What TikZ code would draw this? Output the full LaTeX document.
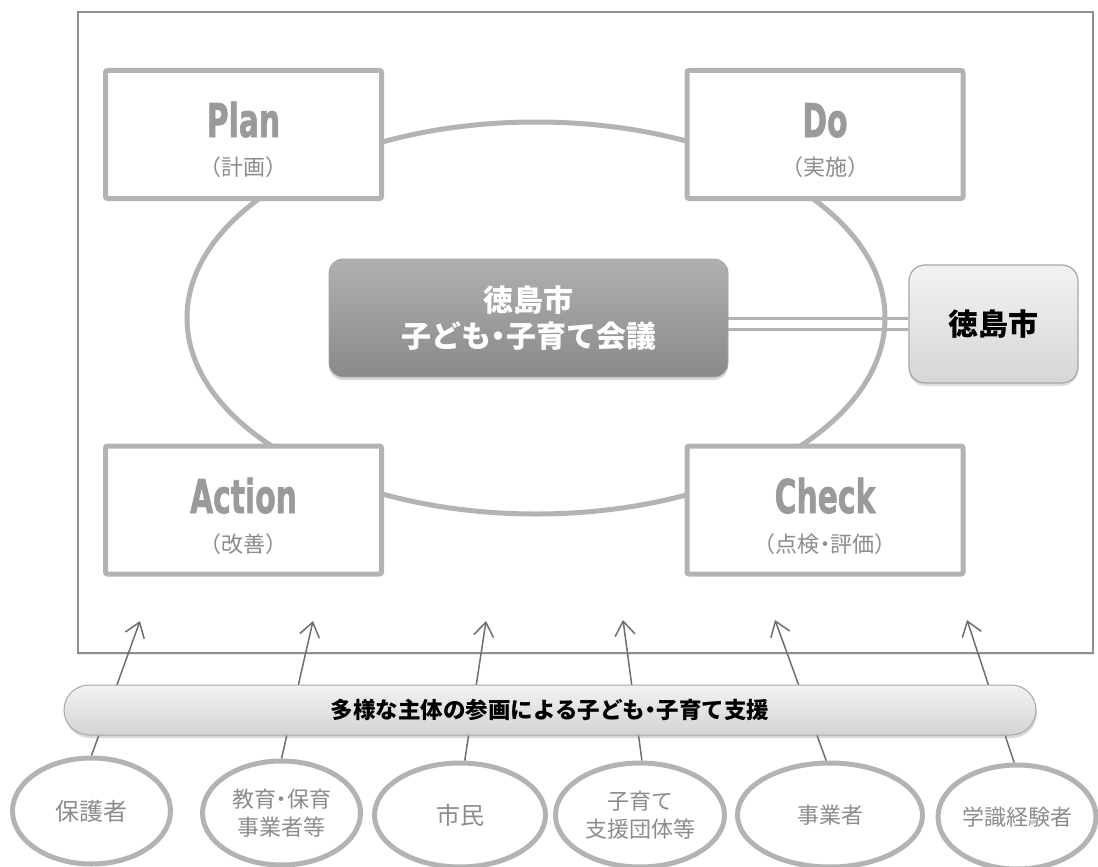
\documentclass[tikz,border=0pt]{standalone}
\usepackage{fontspec}
\usepackage{graphicx}
\setmainfont{Noto Sans CJK JP}
\newfontfamily\pdcafont{DejaVu Sans}[BoldFeatures={FakeBold=1.6}]
\usetikzlibrary{positioning, calc, shapes.geometric, arrows.meta, shadows, backgrounds}

\definecolor{lineGray}{HTML}{B3B3B3}
\definecolor{frameGray}{HTML}{8F8F8F}
\definecolor{titleGray}{HTML}{9A9A9A}
\definecolor{subGray}{HTML}{8C8C8C}
\definecolor{arrowGray}{HTML}{6E6E6E}

\newcommand{\pdcaword}[1]{\scalebox{0.64}[1]{#1}}
\newcommand{\nakaguro}{\makebox[0.5em][c]{・}}

\tikzstyle{Phase} = [draw=lineGray, line width=5pt, fill=white,
rounded corners=2pt, minimum width=276pt, minimum height=128pt, inner sep=0pt]
\tikzstyle{PhaseTitle} = [text=titleGray, anchor=base, inner sep=0pt,
font=\pdcafont\bfseries\fontsize{46.5}{46.5}\selectfont]
\tikzstyle{PhaseSub} = [text=subGray, anchor=base, inner sep=0pt,
font=\fontsize{22}{22}\selectfont]
\tikzstyle{Actor} = [ellipse, draw=lineGray, line width=5pt, fill=white,
inner sep=0pt, text=subGray, align=center, font=\fontsize{22}{28}\selectfont]
\tikzstyle{Arrow} = [draw=arrowGray, line width=1.5pt,
-{Straight Barb[length=14pt, width=20pt]}]

\begin{document}
\begin{tikzpicture}[x=1pt, y=-1pt]
    \useasboundingbox (0,0) rectangle (1098,867);

    % PDCA boxes
    \node [Phase] (plan) at (243.5,134.5) {};
    \node [Phase] (do) at (825,134.5) {};
    \node [Phase] (action) at (243.5,510) {};
    \node [Phase] (check) at (825,510) {};

    \node [PhaseTitle] (plantitle) at ([yshift=-2.5pt]plan.center) {\pdcaword{Plan}};
    \node [PhaseSub] (plansub) at ([yshift=-41pt]plan.center) {（計画）};
    \node [PhaseTitle] (dotitle) at ([yshift=-2.5pt]do.center) {\pdcaword{Do}};
    \node [PhaseSub] (dosub) at ([yshift=-41pt]do.center) {（実施）};
    \node [PhaseTitle] (actiontitle) at ([yshift=-3pt]action.center) {\pdcaword{Action}};
    \node [PhaseSub] (actionsub) at ([yshift=-42pt]action.center) {（改善）};
    \node [PhaseTitle] (checktitle) at ([yshift=-3pt]check.center) {\pdcaword{Check}};
    \node [PhaseSub] (checksub) at ([yshift=-42pt]check.center) {（点検\nakaguro 評価）};

    % council and city
    \node [draw=frameGray!80, line width=0.8pt, rounded corners=14pt,
        top color=black!31, bottom color=black!46,
        drop shadow={opacity=0.3, shadow xshift=0pt, shadow yshift=-3pt},
        minimum width=399pt, minimum height=118pt, align=center, text=white,
        font=\bfseries\fontsize{30}{36}\selectfont] (council) at (528.5,318)
        {徳島市\\子ども\nakaguro 子育て会議};
    \node [draw=black!35, line width=1.2pt, rounded corners=16pt,
        top color=black!5, bottom color=black!16,
        drop shadow={opacity=0.25, shadow xshift=0pt, shadow yshift=-3pt},
        minimum width=169pt, minimum height=118pt,
        font=\bfseries\fontsize{30}{36}\selectfont] (city) at (993.5,324) {徳島市};

    \begin{scope}[on background layer]
        \draw [frameGray, line width=1.5pt, fill=white,
            drop shadow={opacity=0.2, shadow xshift=1pt, shadow yshift=-2pt}]
            (78,12) rectangle (1093,653);
        \draw [lineGray, line width=3pt, double=white, double distance=8.5pt]
            (city.west) -- (council.east |- city.west);
        \draw [lineGray, line width=5pt] (536,318) ellipse [x radius=349pt, y radius=196pt];
    \end{scope}

    % participants
    \node [Actor, minimum width=158pt, minimum height=106pt, font=\fontsize{24}{28}\selectfont]
        (parents) at (91.5,811) {保護者};
    \node [Actor, minimum width=158pt, minimum height=104pt]
        (educators) at (281.5,813) {教育\nakaguro 保育\\事業者等};
    \node [Actor, minimum width=171pt, minimum height=104pt, font=\fontsize{24}{28}\selectfont]
        (citizens) at (460,815) {市民};
    \node [Actor, minimum width=169pt, minimum height=104pt]
        (groups) at (640,815) {子育て\\支援団体等};
    \node [Actor, minimum width=185pt, minimum height=104pt]
        (business) at (830,815) {事業者};
    \node [Actor, minimum width=158pt, minimum height=104pt]
        (experts) at (1017,817) {学識経験者};

    \coordinate (tip1) at (140,621);
    \coordinate (tip2) at (313,621);
    \coordinate (tip3) at (486,621);
    \coordinate (tip4) at (623,620);
    \coordinate (tip5) at (775,620);
    \coordinate (tip6) at (967,620);

    \draw[Arrow] (parents.north) -- (tip1);
    \draw[Arrow] (educators.north) -- (tip2);
    \draw[Arrow] (citizens.85) -- (tip3);
    \draw[Arrow] (groups.88) -- (tip4);
    \draw[Arrow] (business.94) -- (tip5);
    \draw[Arrow] (experts.93) -- (tip6);

    % support bar
    \node [draw=black!34, line width=1pt, rounded corners=25pt,
        top color=black!5, bottom color=black!17,
        drop shadow={opacity=0.3, shadow xshift=1pt, shadow yshift=-3pt},
        minimum width=972pt, minimum height=50pt,
        font=\bfseries\fontsize{22.5}{22.5}\selectfont] (support) at (550,710)
        {多様な主体の参画による子ども\nakaguro 子育て支援};
\end{tikzpicture}
\end{document}
